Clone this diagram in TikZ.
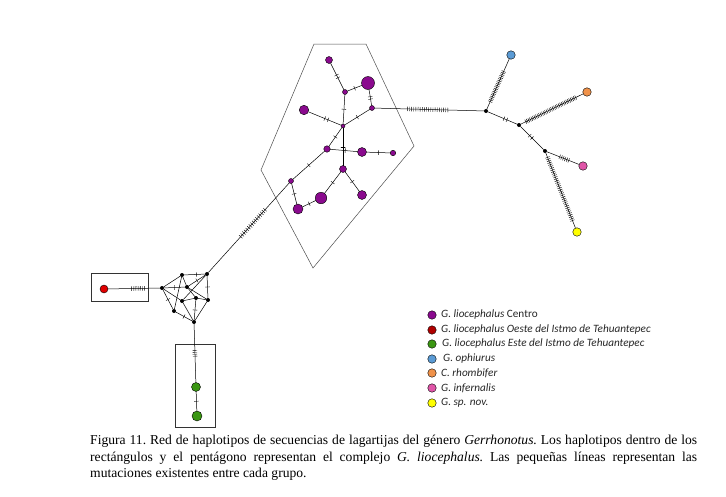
\documentclass[tikz,border=0pt]{standalone}
\usepackage{fontspec}
\setmainfont{Liberation Serif}
\newfontfamily\legfont{Carlito}
\definecolor{purp}{HTML}{8A0A8E}
\definecolor{redn}{HTML}{E00000}
\definecolor{darkredn}{HTML}{B00000}
\definecolor{greenn}{HTML}{3A9612}
\definecolor{bluen}{HTML}{5B9BD5}
\definecolor{orangen}{HTML}{F0924A}
\definecolor{pinkn}{HTML}{E055A8}
\definecolor{yellown}{HTML}{FFFF00}
\tikzset{
  hap/.style={circle, draw=black, line width=0.4pt, inner sep=0pt, outer sep=0pt, minimum size=#1},
  mv/.style={circle, fill=black, inner sep=0pt, outer sep=0pt, minimum size=4pt},
  tk/.style={draw, line width=0.4pt, rectangle, inner sep=0pt, outer sep=0pt, minimum width=0pt, minimum height=4.5pt, sloped},
  edge/.style={draw=black, line width=0.5pt},
  frame/.style={draw=black!80, line width=0.6pt},
  leg/.style={anchor=west, inner sep=0pt, text=black!85, font=\legfont\fontsize{11.2}{13}\selectfont}
}
\newcommand{\mticks}[5]{%
  \foreach \ii in {1,...,#3}{%
    \pgfmathsetmacro\pp{#4+(#5-#4)*(\ii-1)/max(#3-1,1)}%
    \path (#1) -- (#2) node[tk,pos=\pp]{};
  }}
\begin{document}
\begin{tikzpicture}[x=1pt,y=-1pt]
\useasboundingbox (0,0) rectangle (726,496);
% pentagon and rectangles
\draw[black!70, line width=0.5pt] (314,44) -- (366,44) -- (414,146) -- (313,268) -- (261,170) -- cycle;
\draw[frame] (91,273) rectangle (148,301);
\draw[frame] (175,344) rectangle (215,427);
% purple haplotypes
\node[hap=7pt, fill=purp] (A) at (329,60) {};
\node[hap=13pt, fill=purp] (B) at (368,83) {};
\node[hap=5pt, fill=purp] (C) at (345,92) {};
\node[hap=5pt, fill=purp] (D) at (372,108) {};
\node[hap=9.5pt, fill=purp] (E) at (304,110) {};
\node[hap=4pt, fill=purp] (F) at (343,126) {};
\node[hap=6.5pt, fill=purp] (G) at (327,149) {};
\node[hap=9pt, fill=purp] (H) at (362,152) {};
\node[hap=5.5pt, fill=purp] (I) at (393,153) {};
\node[hap=7pt, fill=purp] (J) at (343,169) {};
\node[hap=5pt, fill=purp] (K) at (291,181) {};
\node[hap=11.5pt, fill=purp] (L) at (321,198) {};
\node[hap=9pt, fill=purp] (M) at (362,195) {};
\node[hap=10pt, fill=purp] (N) at (298,209) {};
% small reticulated network
\node[mv] (n1) at (162,288) {};
\node[mv] (n2) at (182,275) {};
\node[mv] (n3) at (207,274) {};
\node[mv] (n4) at (187,287) {};
\node[mv] (n5) at (196,298) {};
\node[mv] (n6) at (182,301) {};
\node[mv] (n7) at (208,300) {};
\node[mv] (n8) at (174,311) {};
\node[mv] (n9) at (194,322) {};
\node[hap=8pt, fill=redn] (red) at (104,289) {};
\node[hap=9pt, fill=greenn] (g1) at (196,387) {};
\node[hap=10pt, fill=greenn] (g2) at (197,416) {};
% right part
\node[mv] (R1) at (486,111) {};
\node[mv] (R2) at (519,125) {};
\node[mv] (R3) at (545,151) {};
\node[hap=8.5pt, fill=bluen] (blue) at (511,55) {};
\node[hap=8.5pt, fill=orangen] (orange) at (587,92) {};
\node[hap=8.5pt, fill=pinkn] (pink) at (583,166) {};
\node[hap=8.5pt, fill=yellown] (yellow) at (577,232) {};
% edges
\foreach \a/\b in {A/C, C/B, B/D, D/F, E/F, C/F, F/G, F/J, G/H, H/I, G/K, K/N, N/L, L/J, J/M, D/R1, K/n3,
  n1/n2, n1/n4, n1/n6, n1/n8, n2/n3, n2/n4, n2/n8, n3/n4, n3/n6, n3/n7, n4/n5, n5/n6, n5/n7, n5/n9, n6/n9, n7/n9, n8/n9, n4/n7,
  red/n1, n9/g1, g1/g2, R1/blue, R1/R2, R2/orange, R2/R3, R3/pink, R3/yellow}
  {\draw[edge] (\a) -- (\b);}
% mutation ticks
\mticks{A}{C}{2}{0.45}{0.55}
\mticks{C}{B}{1}{0.5}{0.5}
\mticks{B}{D}{2}{0.45}{0.6}
\mticks{D}{F}{1}{0.5}{0.5}
\mticks{E}{F}{2}{0.5}{0.6}
\mticks{C}{F}{1}{0.5}{0.5}
\mticks{F}{G}{1}{0.5}{0.5}
\mticks{F}{J}{1}{0.5}{0.5}
\mticks{G}{H}{1}{0.55}{0.55}
\mticks{H}{I}{1}{0.5}{0.5}
\mticks{G}{K}{1}{0.5}{0.5}
\mticks{K}{N}{1}{0.5}{0.5}
\mticks{N}{L}{1}{0.5}{0.5}
\mticks{L}{J}{1}{0.5}{0.5}
\mticks{J}{M}{1}{0.5}{0.5}
\mticks{D}{R1}{20}{0.3}{0.67}
\mticks{K}{n3}{16}{0.3}{0.6}
\mticks{red}{n1}{8}{0.45}{0.7}
\mticks{n9}{g1}{4}{0.45}{0.55}
\mticks{g1}{g2}{1}{0.5}{0.5}
\mticks{n2}{n3}{1}{0.6}{0.6}
\mticks{n3}{n7}{1}{0.5}{0.5}
\mticks{n1}{n4}{1}{0.5}{0.5}
\mticks{n3}{n4}{1}{0.5}{0.5}
\mticks{n1}{n8}{1}{0.5}{0.5}
\mticks{n5}{n9}{1}{0.5}{0.5}
\mticks{n8}{n9}{1}{0.5}{0.5}
\mticks{R1}{blue}{20}{0.15}{0.75}
\mticks{R1}{R2}{2}{0.55}{0.65}
\mticks{R2}{orange}{34}{0.08}{0.88}
\mticks{R2}{R3}{2}{0.4}{0.5}
\mticks{R3}{pink}{6}{0.4}{0.68}
\mticks{R3}{yellow}{36}{0.06}{0.9}
% legend
\foreach \y/\c [count=\k] in {315/purp, 330/darkredn, 344/greenn, 359/bluen, 373/orangen, 388/pinkn, 403/yellown}
  {\node[hap=8.5pt, fill=\c] (lg\k) at (432,\y) {};}
\node[leg] (t1) at (441,315) {\textit{G. liocephalus} Centro};
\node[leg] (t2) at (441,330) {\textit{G. liocephalus Oeste del Istmo de Tehuantepec}};
\node[leg] (t3) at (442,344) {\textit{G. liocephalus Este del Istmo de Tehuantepec}};
\node[leg] (t4) at (443,359) {\textit{G. ophiurus}};
\node[leg] (t5) at (441,373) {\textit{C. rhombifer}};
\node[leg] (t6) at (441,388) {\textit{G. infernalis}};
\node[leg] (t7) at (441,403) {\textit{G. sp. nov.}};
% caption
\node[anchor=north west, inner sep=0pt, text width=607pt, align=justify, font=\fontsize{13.6}{16.5}\selectfont\frenchspacing] (cap) at (90,435)
{\hyphenpenalty=10000\relax Figura 11. Red de haplotipos de secuencias de lagartijas del género \textit{Gerrhonotus.} Los haplotipos dentro de los\linebreak rectángulos y el pentágono representan el complejo \textit{G. liocephalus.} Las pequeñas líneas representan las\linebreak mutaciones existentes entre cada grupo.};
\end{tikzpicture}
\end{document}
